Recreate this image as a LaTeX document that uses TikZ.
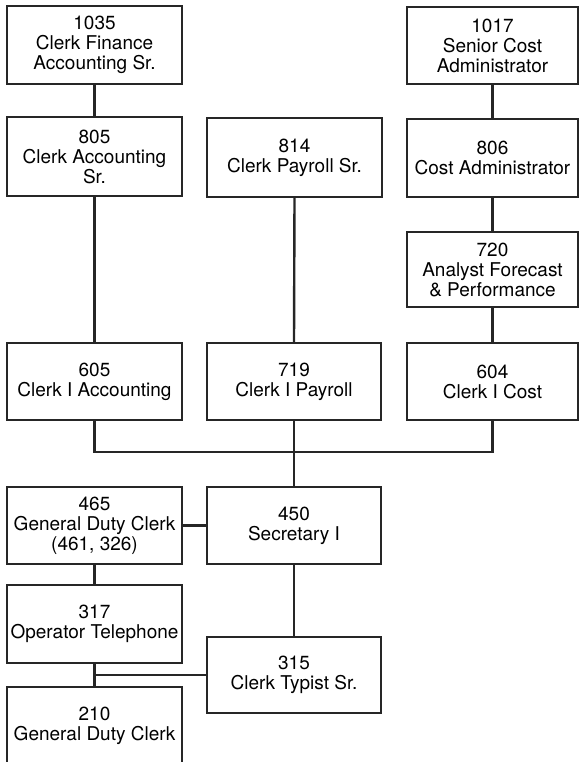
\documentclass[tikz,border=0pt]{standalone}
\usepackage{fontspec}
\setmainfont{TeX Gyre Heros}
\begin{document}
\begin{tikzpicture}[x=1pt,y=-1pt,
  box/.style={draw=black!85, fill=white, line width=2.4pt, inner sep=0pt,
    align=center, minimum width=175pt, minimum height=78pt,
    font=\fontsize{19}{20}\selectfont},
  label/.style={font=\fontsize{19}{20}\selectfont, align=center, inner sep=0pt},
  link/.style={draw=black!85, line width=2.4pt}]
\useasboundingbox (0,0) rectangle (579,762);
\clip (0,0) rectangle (579,762);

\coordinate (bar) at (294,452);

% top row
\node[box] (n1035) at (94.5,45) {1035\\Clerk Finance\\Accounting Sr.};
\node[box, minimum width=171pt, minimum height=77pt] (n1017) at (492.5,45.5) {1017\\Senior Cost\\Administrator};

% second row
\node[box, minimum height=79pt] (n805) at (94.5,156.5) {805\\Clerk Accounting\\Sr.};
\node[box, minimum height=79pt] (n814) at (294.5,157.5) {814\\Clerk Payroll Sr.};
\node[box, minimum width=171pt] (n806) at (492.5,158) {806\\Cost Administrator};
\node[box, minimum width=171pt, minimum height=75pt] (n720) at (492.5,269.5) {720\\Analyst Forecast\\\& Performance};

% third row
\node[box, minimum height=77pt] (n605) at (94.5,381.5) {605\\Clerk I Accounting};
\node[box, minimum width=174pt, minimum height=77pt] (n719) at (294,381.5) {719\\Clerk I Payroll};
\node[box, minimum width=171pt, minimum height=77pt] (n604) at (492.5,381.5) {604\\Clerk I Cost};

% lower part
\node[box, minimum height=77pt] (n465) at (94.5,525.5) {465\\General Duty Clerk\\(461, 326)};
\node[box, minimum width=174pt, minimum height=77pt] (n450) at (294,525.5) {450\\Secretary I};
\node[box] (n317) at (94.5,624) {317\\Operator Telephone};
\node[box, minimum width=174pt, minimum height=76pt] (n315) at (294,675) {315\\Clerk Typist Sr.};
% the last box runs past the bottom edge
\node[box, minimum height=100pt] (n210) at (94.5,737) {};
\node[label, anchor=north] (t210) at (94.5,707) {210\\General Duty Clerk};

% connectors
\draw[link] (n1035.south) -- (n805.north);
\draw[link] (n805.south) -- (n605.north);
\draw[link] (n814.south) -- (n719.north);
\draw[link] (n1017.south) -- (n806.north);
\draw[link] (n806.south) -- (n720.north);
\draw[link] (n720.south) -- (n604.north);
\draw[link] (n605.south) |- (bar);
\draw[link] (n604.south) |- (bar);
\draw[link] (n719.south) -- (n450.north);
\draw[link] (n465.east) -- (n450.west);
\draw[link] (n465.south) -- (n317.north);
\draw[link] (n450.south) -- (n315.north);
\draw[link] (n317.south) -- (n210.north);
\draw[link] (n315.west) -- (n315.west -| n317.south);
\end{tikzpicture}
\end{document}
